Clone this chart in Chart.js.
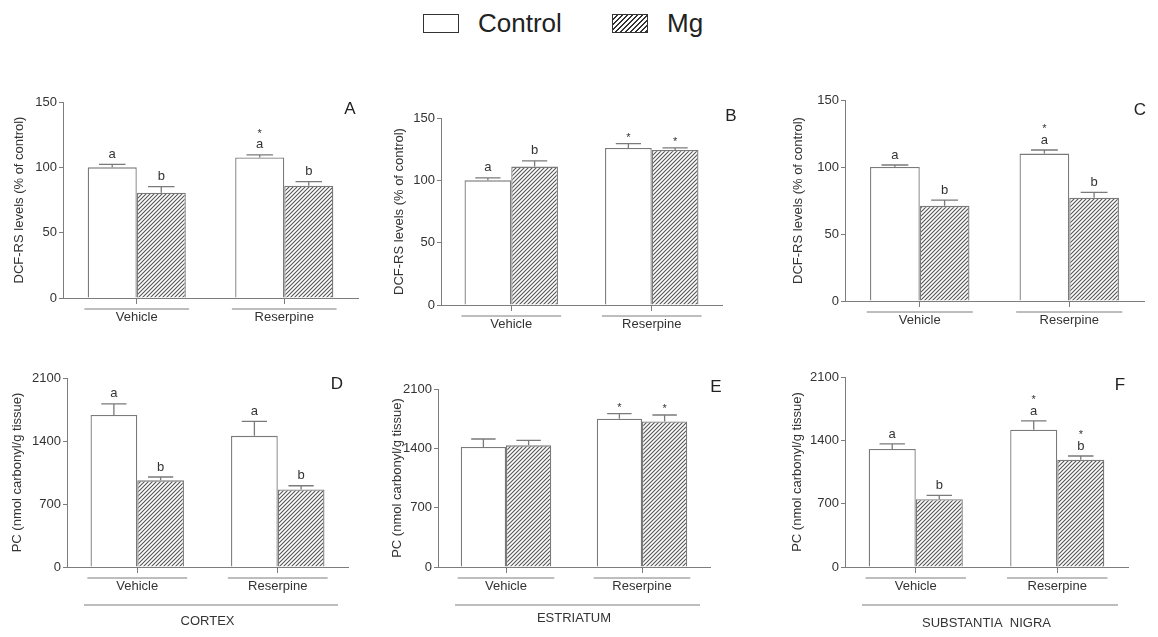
<!DOCTYPE html>
<html>
<head>
<meta charset="utf-8">
<script src="https://cdn.jsdelivr.net/npm/chart.js@4.4.0/dist/chart.umd.min.js"></script>
<style>
  body { margin: 0; background: #fff; width: 1158px; height: 637px; position: relative; overflow: hidden;
         font-family: "Liberation Sans", Arial, sans-serif; }
  .panel { position: absolute; }
  .legend-box { position: absolute; top: 14px; width: 36px; height: 19px; box-sizing: border-box; border: 1.5px solid #333; }
  .legend-text { position: absolute; top: 8px; font-size: 26px; line-height: 30px; color: #222; }
</style>
</head>
<body>
<div class="legend-box" style="left:423px; background:#fff"></div>
<div class="legend-text" style="left:478px">Control</div>
<div class="legend-box" style="left:612px; background:repeating-linear-gradient(135deg, #fff 0 2.2px, #333 2.2px 3.6px)"></div>
<div class="legend-text" style="left:667px">Mg</div>

<script>
// groups and series
const groups = ['Vehicle', 'Reserpine'];
const seriesNames = ['Control', 'Mg'];

// tick labels
const dcfTicks = [0, 50, 100, 150];
const pcTicks = [0, 700, 1400, 2100];

// A - cortex, DCF-RS (% of control)
const ctrlA = [100, 107.5];
const ctrlSemA = [2.2, 2.1];
const mgA = [80.6, 86];
const mgSemA = [4.6, 3];

// B - striatum, DCF-RS
const ctrlB = [100, 126];
const ctrlSemB = [2, 3.5];
const mgB = [111, 124.3];
const mgSemB = [4.6, 1.7];

// C - substantia nigra, DCF-RS
const ctrlC = [100, 110];
const ctrlSemC = [1.5, 2.7];
const mgC = [71, 77];
const mgSemC = [4.3, 4];

// D - cortex, PC (nmol carbonyl/g tissue)
const ctrlD = [1690, 1457];
const ctrlSemD = [123, 160];
const mgD = [963, 862];
const mgSemD = [37, 41];

// E - striatum, PC
const ctrlE = [1416, 1750];
const ctrlSemE = [94, 59];
const mgE = [1435, 1718];
const mgSemE = [59, 75];

// F - substantia nigra, PC
const ctrlF = [1304, 1518];
const ctrlSemF = [56, 96];
const mgF = [748, 1186];
const mgSemF = [44, 41];

// significance letters, listed bottom to top
const ctrlMarksA = [['a'], ['a', '*']];
const mgMarksA = [['b'], ['b']];
const ctrlMarksB = [['a'], ['*']];
const mgMarksB = [['b'], ['*']];
const ctrlMarksC = [['a'], ['a', '*']];
const mgMarksC = [['b'], ['b']];
const ctrlMarksD = [['a'], ['a']];
const mgMarksD = [['b'], ['b']];
const ctrlMarksE = [[], ['*']];
const mgMarksE = [[], ['*']];
const ctrlMarksF = [['a'], ['a', '*']];
const mgMarksF = [['b'], ['b', '*']];

const dcfTitle = 'DCF-RS levels (% of control)';
const pcTitle = 'PC (nmol carbonyl/g tissue)';

const family = '"Liberation Sans", Arial, sans-serif';
const textColor = '#333';
const axisColor = '#7d7d7d';
const barBorder = '#7a7a7a';

function makeHatch() {
    const c = document.createElement('canvas');
    c.width = 4; c.height = 4;
    const g = c.getContext('2d');
    g.fillStyle = '#fff';
    g.fillRect(0, 0, 4, 4);
    g.strokeStyle = '#555';
    g.lineWidth = 1.1;
    g.beginPath();
    g.moveTo(0, 4); g.lineTo(4, 0);
    g.moveTo(-1, 1); g.lineTo(1, -1);
    g.moveTo(3, 5); g.lineTo(5, 3);
    g.stroke();
    return g.createPattern(c, 'repeat');
}
const hatch = makeHatch();

// error bars, letters, group lines, panel letter
const decorPlugin = {
    id: 'decor',
    afterDatasetsDraw(chart, args, opts) {
        const ctx = chart.ctx;
        const x = chart.scales.x, y = chart.scales.y;
        const area = chart.chartArea;
        ctx.save();
        chart.data.datasets.forEach((ds, di) => {
            const meta = chart.getDatasetMeta(di);
            meta.data.forEach((bar, i) => {
                const yTop = y.getPixelForValue(ds.data[i]);
                const yErr = y.getPixelForValue(ds.data[i] + ds.sem[i]);
                const half = bar.width * 0.27;
                ctx.strokeStyle = barBorder;
                ctx.lineWidth = 1.3;
                ctx.beginPath();
                ctx.moveTo(bar.x, yTop);
                ctx.lineTo(bar.x, yErr);
                ctx.moveTo(bar.x - half, yErr);
                ctx.lineTo(bar.x + half, yErr);
                ctx.stroke();
                ctx.fillStyle = textColor;
                ctx.textAlign = 'center';
                ctx.textBaseline = 'middle';
                (ds.marks[i] || []).forEach((m, k) => {
                    const cy = yErr - 9 - 15 * k;
                    if (m === '*') {
                        ctx.font = '11px ' + family;
                        ctx.fillText(m, bar.x, cy + 3);
                    } else {
                        ctx.font = '13px ' + family;
                        ctx.fillText(m, bar.x, cy - 1);
                    }
                });
            });
        });
        // lines under each group
        ctx.strokeStyle = axisColor;
        ctx.lineWidth = 1;
        const catW = (area.right - area.left) / groups.length;
        groups.forEach((gname, i) => {
            const cx = x.getPixelForValue(i);
            ctx.beginPath();
            ctx.moveTo(cx - catW * 0.355, area.bottom + 11);
            ctx.lineTo(cx + catW * 0.355, area.bottom + 11);
            ctx.stroke();
        });
        if (opts.region) {
            ctx.beginPath();
            ctx.moveTo(area.left + 17, area.bottom + 38);
            ctx.lineTo(area.right - 10, area.bottom + 38);
            ctx.stroke();
        }
        ctx.fillStyle = '#222';
        ctx.font = '17px ' + family;
        ctx.textAlign = 'center';
        ctx.textBaseline = 'middle';
        ctx.fillText(opts.letter, opts.lx, opts.ly);
        ctx.restore();
    }
};

function makePanel(g, ctrl, ctrlSem, ctrlMarks, mg, mgSem, mgMarks, yTicks, yTitle) {
    const padTop = 14;
    const padRight = Math.max(4, g.lx + 12 - g.right);
    const canvasTop = g.top - padTop;
    const canvasBottom = g.region ? g.titleY + 7.8 + 2 : g.bottom + 36;
    const width = Math.round(g.right + padRight - g.left);
    const height = Math.round(canvasBottom - canvasTop);
    const xHeight = height - (g.bottom - canvasTop);

    const div = document.createElement('div');
    div.className = 'panel';
    div.style.left = g.left + 'px';
    div.style.top = canvasTop + 'px';
    div.style.width = width + 'px';
    div.style.height = height + 'px';
    const canvas = document.createElement('canvas');
    canvas.width = width;
    canvas.height = height;
    div.appendChild(canvas);
    document.body.appendChild(div);

    new Chart(canvas.getContext('2d'), {
        type: 'bar',
        data: {
            labels: groups,
            datasets: [
                {
                    label: seriesNames[0],
                    data: ctrl,
                    sem: ctrlSem,
                    marks: ctrlMarks,
                    backgroundColor: '#fff',
                    borderColor: barBorder,
                    borderWidth: 1.3
                },
                {
                    label: seriesNames[1],
                    data: mg,
                    sem: mgSem,
                    marks: mgMarks,
                    backgroundColor: hatch,
                    borderColor: barBorder,
                    borderWidth: 1.3
                }
            ]
        },
        options: {
            responsive: false,
            animation: false,
            devicePixelRatio: 1,
            layout: { padding: { left: 0, top: padTop, right: padRight, bottom: 0 } },
            datasets: { bar: { barPercentage: 1, categoryPercentage: 0.665 } },
            plugins: {
                legend: { display: false },
                tooltip: { enabled: false },
                decor: { letter: g.letter, lx: g.lx - g.left, ly: g.ly - canvasTop, region: g.region }
            },
            scales: {
                x: {
                    afterFit: s => { s.height = xHeight; },
                    grid: { drawOnChartArea: false, offset: false, tickLength: 6, color: axisColor },
                    border: { color: axisColor, width: 1 },
                    ticks: { color: textColor, font: { size: 13, family: family }, padding: 6 },
                    title: {
                        display: !!g.region,
                        text: g.region || '',
                        color: textColor,
                        font: { size: 13, family: family },
                        padding: { top: 0, bottom: 2 }
                    }
                },
                y: {
                    min: 0,
                    max: yTicks[yTicks.length - 1],
                    afterBuildTicks: s => { s.ticks = yTicks.map(v => ({ value: v })); },
                    afterFit: s => { s.width = g.axisX - g.left; },
                    grid: { drawOnChartArea: false, tickLength: 4, color: axisColor },
                    border: { color: axisColor, width: 1 },
                    ticks: {
                        color: textColor,
                        font: { size: 13, family: family },
                        padding: 2,
                        callback: v => String(v)
                    },
                    title: {
                        display: true,
                        text: yTitle,
                        color: textColor,
                        font: { size: 13, family: family },
                        padding: { top: 4, bottom: 4 }
                    }
                }
            }
        },
        plugins: [decorPlugin]
    });
}

// panel placement on the page
const geoA = { left: 8, axisX: 63, right: 358, top: 102, bottom: 298, letter: 'A', lx: 350, ly: 109 };
const geoB = { left: 388, axisX: 441, right: 722, top: 118, bottom: 305, letter: 'B', lx: 731, ly: 116 };
const geoC = { left: 787, axisX: 845, right: 1144, top: 100, bottom: 301, letter: 'C', lx: 1140, ly: 110 };
const geoD = { left: 6, axisX: 67, right: 348, top: 378, bottom: 567, letter: 'D', lx: 337, ly: 384, region: 'CORTEX', titleY: 621 };
const geoE = { left: 386, axisX: 438, right: 710, top: 389, bottom: 567, letter: 'E', lx: 716, ly: 387, region: 'ESTRIATUM', titleY: 618 };
const geoF = { left: 786, axisX: 845, right: 1128, top: 377, bottom: 567, letter: 'F', lx: 1120, ly: 385, region: 'SUBSTANTIA  NIGRA', titleY: 623 };

makePanel(geoA, ctrlA, ctrlSemA, ctrlMarksA, mgA, mgSemA, mgMarksA, dcfTicks, dcfTitle);
makePanel(geoB, ctrlB, ctrlSemB, ctrlMarksB, mgB, mgSemB, mgMarksB, dcfTicks, dcfTitle);
makePanel(geoC, ctrlC, ctrlSemC, ctrlMarksC, mgC, mgSemC, mgMarksC, dcfTicks, dcfTitle);
makePanel(geoD, ctrlD, ctrlSemD, ctrlMarksD, mgD, mgSemD, mgMarksD, pcTicks, pcTitle);
makePanel(geoE, ctrlE, ctrlSemE, ctrlMarksE, mgE, mgSemE, mgMarksE, pcTicks, pcTitle);
makePanel(geoF, ctrlF, ctrlSemF, ctrlMarksF, mgF, mgSemF, mgMarksF, pcTicks, pcTitle);
</script>
</body>
</html>
